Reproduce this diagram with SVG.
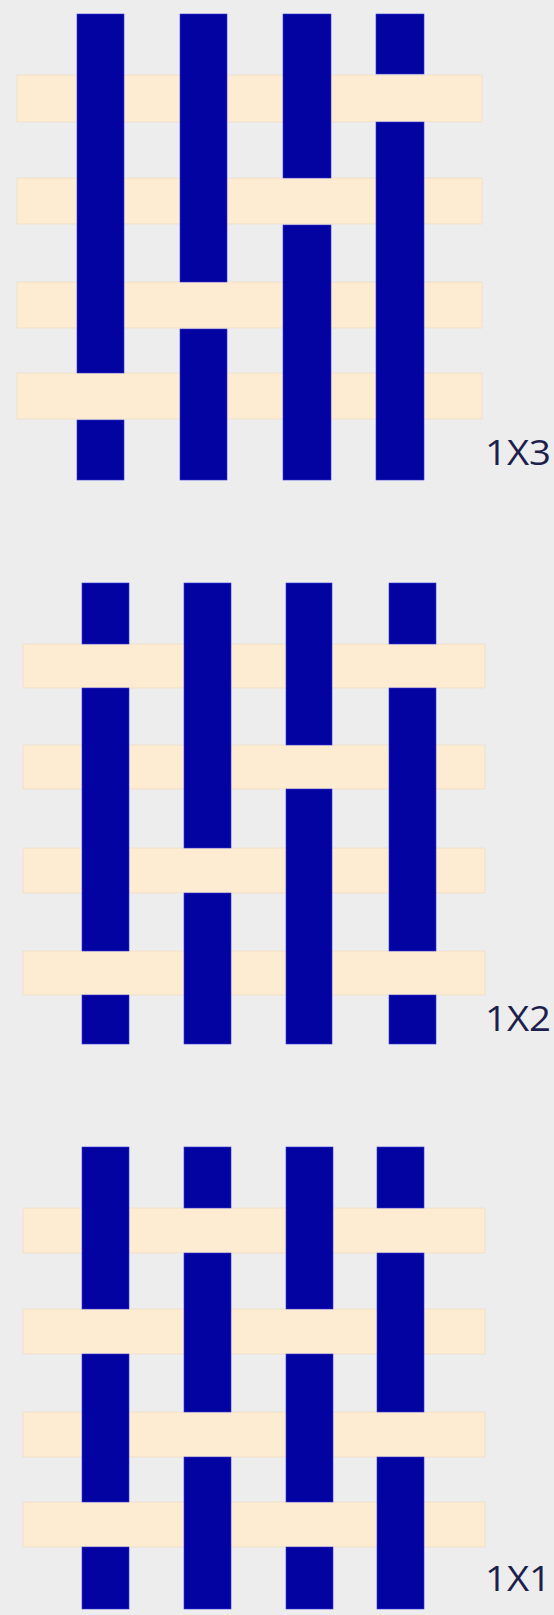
<svg xmlns="http://www.w3.org/2000/svg" width="554" height="1615" viewBox="0 0 554 1615">
<style>
.bg{fill:#ededed}
.weft{fill:#fdebd2;stroke:#eadbc0;stroke-width:0.6}
.warp{fill:#0303a1;stroke:#3838d8;stroke-width:0.6}
.lbl{font-family:"Open Sans","Noto Sans","Liberation Sans",sans-serif;font-size:34px;fill:#1d1f4d}
</style>
<rect class="bg" x="0" y="0" width="554" height="1615"/>
<g id="weave-1x3">
  <rect class="weft" x="17" y="75" width="465" height="47"/>
  <rect class="weft" x="17" y="178" width="465" height="46"/>
  <rect class="weft" x="17" y="282" width="465" height="46"/>
  <rect class="weft" x="17" y="373" width="465" height="46"/>
  <rect class="warp" x="77" y="14" width="47" height="359"/>
  <rect class="warp" x="77" y="420" width="47" height="60"/>
  <rect class="warp" x="180" y="14" width="47" height="268"/>
  <rect class="warp" x="180" y="329" width="47" height="151"/>
  <rect class="warp" x="283" y="14" width="48" height="164"/>
  <rect class="warp" x="283" y="225" width="48" height="255"/>
  <rect class="warp" x="376" y="14" width="48" height="60"/>
  <rect class="warp" x="376" y="122" width="48" height="358"/>
  <text class="lbl" x="485" y="465" textLength="66" lengthAdjust="spacingAndGlyphs">1X3</text>
</g>
<g id="weave-1x2">
  <rect class="weft" x="23" y="644" width="462" height="44"/>
  <rect class="weft" x="23" y="745" width="462" height="44"/>
  <rect class="weft" x="23" y="848" width="462" height="45"/>
  <rect class="weft" x="23" y="951" width="462" height="44"/>
  <rect class="warp" x="82" y="583" width="47" height="61"/>
  <rect class="warp" x="82" y="688" width="47" height="263"/>
  <rect class="warp" x="82" y="995" width="47" height="49"/>
  <rect class="warp" x="184" y="583" width="47" height="265"/>
  <rect class="warp" x="184" y="893" width="47" height="151"/>
  <rect class="warp" x="286" y="583" width="46" height="162"/>
  <rect class="warp" x="286" y="789" width="46" height="255"/>
  <rect class="warp" x="389" y="583" width="47" height="61"/>
  <rect class="warp" x="389" y="688" width="47" height="263"/>
  <rect class="warp" x="389" y="995" width="47" height="49"/>
  <text class="lbl" x="485" y="1031" textLength="66" lengthAdjust="spacingAndGlyphs">1X2</text>
</g>
<g id="weave-1x1">
  <rect class="weft" x="23" y="1208" width="462" height="45"/>
  <rect class="weft" x="23" y="1309" width="462" height="45"/>
  <rect class="weft" x="23" y="1412" width="462" height="45"/>
  <rect class="weft" x="23" y="1502" width="462" height="45"/>
  <rect class="warp" x="82" y="1147" width="47" height="162"/>
  <rect class="warp" x="82" y="1354" width="47" height="148"/>
  <rect class="warp" x="82" y="1547" width="47" height="62"/>
  <rect class="warp" x="184" y="1147" width="47" height="61"/>
  <rect class="warp" x="184" y="1253" width="47" height="159"/>
  <rect class="warp" x="184" y="1457" width="47" height="152"/>
  <rect class="warp" x="286" y="1147" width="47" height="162"/>
  <rect class="warp" x="286" y="1354" width="47" height="148"/>
  <rect class="warp" x="286" y="1547" width="47" height="62"/>
  <rect class="warp" x="377" y="1147" width="47" height="61"/>
  <rect class="warp" x="377" y="1253" width="47" height="159"/>
  <rect class="warp" x="377" y="1457" width="47" height="152"/>
  <text class="lbl" x="485" y="1591" textLength="66" lengthAdjust="spacingAndGlyphs">1X1</text>
</g>
</svg>
